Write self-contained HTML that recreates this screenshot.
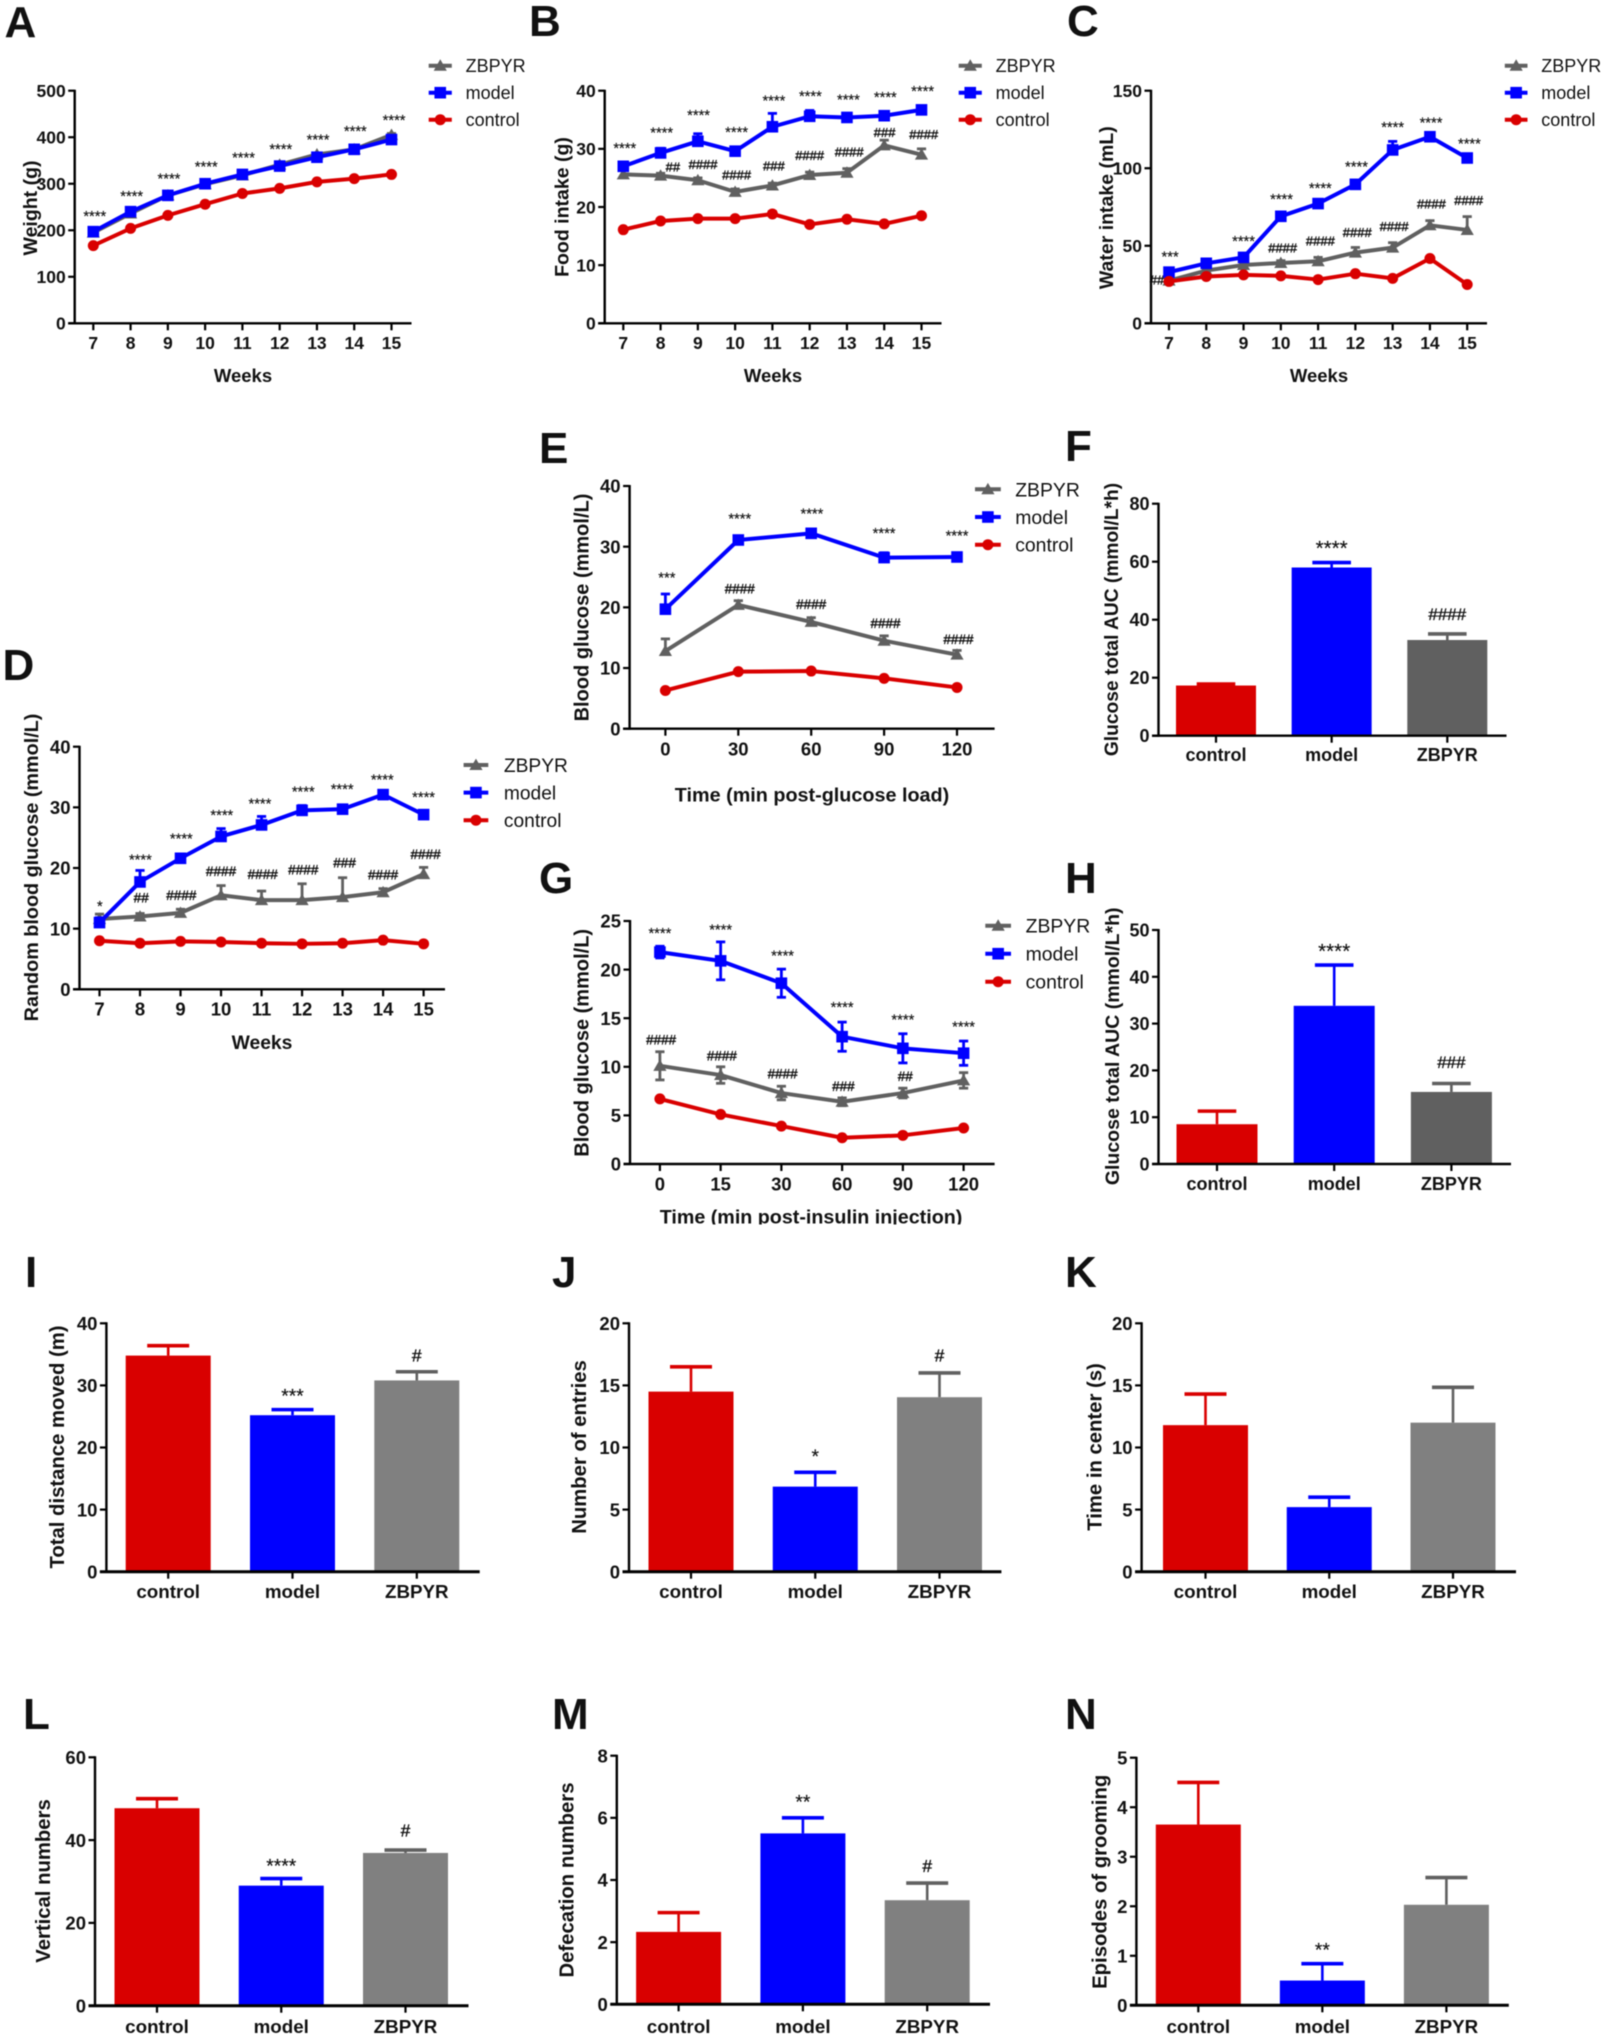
<!DOCTYPE html>
<html lang="en">
<head>
<meta charset="utf-8">
<title>ZBPYR multi-panel figure</title>
<style>
html,body{margin:0;padding:0;background:#fff;}
#figure{display:block;width:1604px;height:2038px;filter:blur(.4px);}
text{font-family:"Liberation Sans",Arial,sans-serif;fill:#111;}
</style>
</head>
<body>
<svg id="figure" xmlns="http://www.w3.org/2000/svg" width="1604" height="2038" viewBox="0 0 1604 2038"></svg>
<script>
/* ---------- shared categories ---------- */
const weeks = ['7','8','9','10','11','12','13','14','15'];
const glucoseTimes = ['0','30','60','90','120'];
const insulinTimes = ['0','15','30','60','90','120'];
const groups = ['control','model','ZBPYR'];

/* ---------- panel A ---------- */
const aTicks = [0,100,200,300,400,500];
const aZbpyr = [195,236,275,299,318,341,363,374,405];
const aZbpyrErr = [3,3,3,3,3,3,3,3,3];
const aModel = [197,240,275,300,320,338,357,374,395];
const aModelErr = [3,3,3,3,3,3,3,3,3];
const aControl = [167,204,232,256,279,290,304,311,320];
const aControlErr = [2,2,2,2,2,2,2,2,2];
const aStarLabels = ['****','****','****','****','****','****','****','****','****'];
const aStarAt = [0.04,1.03,2.03,3.03,4.03,5.03,6.03,7.03,8.07];
const aStarLevel = [238,281,319,344,364,382,402,421,444];

/* ---------- panel B ---------- */
const bTicks = [0,10,20,30,40];
const bZbpyr = [25.6,25.4,24.6,22.6,23.7,25.5,25.9,30.6,29];
const bZbpyrErr = [0.8,0.4,0.4,0.5,0.4,0.5,0.7,0.9,1.0];
const bModel = [27,29.3,31.3,29.6,33.8,35.6,35.4,35.7,36.7];
const bModelErr = [0.4,0.8,1.3,0.6,2.3,1.0,0.7,0.5,0.5];
const bControl = [16.1,17.6,18,18,18.8,17,17.9,17.1,18.5];
const bControlErr = [0.3,0.3,0.3,0.3,0.4,0.3,0.3,0.3,0.3];
const bStarLabels = ['****','****','****','****','****','****','****','****','****'];
const bStarAt = [0.04,1.03,2.02,3.04,4.04,5.02,6.04,7.03,8.03];
const bStarLevel = [30.7,33.4,36.4,33.5,38.9,39.7,39.1,39.5,40.5];
const bHashLabels = ['##','####','####','###','####','####','###','####'];
const bHashAt = [1.33,2.14,3.04,4.04,5.0,6.06,7.01,8.06];
const bHashLevel = [26.9,27.3,25.5,27.1,28.9,29.5,32.8,32.5];

/* ---------- panel C ---------- */
const cTicks = [0,50,100,150];
const cZbpyr = [27.5,34,37.6,38.9,40,45.6,48.8,63.2,60.2];
const cZbpyrErr = [1,1,1,1.5,2.5,3.3,3.2,3,8.6];
const cModel = [33,38.7,42.5,69,77.2,89.6,111.8,120.3,106.6];
const cModelErr = [1.5,1.5,1.5,2,1.5,2,5.5,1.5,1.5];
const cControl = [27,30.2,31.2,30.6,28.2,32,29,41.8,25];
const cControlErr = [0.5,0.5,0.5,0.5,0.5,0.5,0.5,0.5,0.5];
const cStarLabels = ['***','****','****','****','****','****','****','****'];
const cStarAt = [0.03,2,3.02,4.06,5.03,6,7.03,8.06];
const cStarLevel = [45.3,55.4,82.5,89.6,103.2,128.7,131.7,118.2];
const cHashLabels = ['##','####','####','####','####','####','####'];
const cHashAt = [-0.32,3.05,4.06,5.05,6.04,7.04,8.04];
const cHashLevel = [27.9,48.6,53.1,58.7,62.3,76.9,79.1];

/* ---------- panel D ---------- */
const dTicks = [0,10,20,30,40];
const dZbpyr = [11.6,12,12.6,15.5,14.7,14.7,15.2,16,19];
const dZbpyrErr = [0.8,0.5,0.6,1.6,1.5,2.7,3.2,0.6,1.1];
const dModel = [11,17.7,21.6,25.2,27.1,29.5,29.7,32.1,28.8];
const dModelErr = [0.8,1.9,0.5,1.3,1.4,0.8,0.5,0.3,0.3];
const dControl = [8,7.6,7.9,7.8,7.6,7.5,7.6,8.1,7.5];
const dControlErr = [0.2,0.2,0.2,0.2,0.2,0.2,0.2,0.2,0.2];
const dStarLabels = ['*','****','****','****','****','****','****','****','****'];
const dStarAt = [0.01,1.01,2.02,3.02,3.96,5.03,5.99,6.98,8];
const dStarLevel = [14.3,22,25.4,29.3,31.2,33.2,33.6,35.2,32.3];
const dHashLabels = ['##','####','####','####','####','###','####','####'];
const dHashAt = [1.03,2.02,3,4.03,5.03,6.05,7,8.05];
const dHashLevel = [15.1,15.5,19.5,19,19.7,20.9,18.9,22.3];

/* ---------- panel E ---------- */
const eTicks = [0,10,20,30,40];
const eZbpyr = [12.8,20.4,17.6,14.5,12.2];
const eZbpyrErr = [2,0.7,0.7,0.8,0.7];
const eModel = [19.7,31.1,32.2,28.2,28.3];
const eModelErr = [2.5,0.4,0.2,0.8,0.3];
const eControl = [6.3,9.4,9.5,8.3,6.8];
const eControlErr = [0.2,0.2,0.2,0.2,0.2];
const eStarLabels = ['***','****','****','****','****'];
const eStarAt = [0.02,1.02,2.01,3,4];
const eStarLevel = [25.5,35.2,36,32.8,32.4];
const eHashLabels = ['####','####','####','####'];
const eHashAt = [1.02,2,3.02,4.02];
const eHashLevel = [23.1,20.5,17.4,14.7];

/* ---------- panel F ---------- */
const fTicks = [0,20,40,60,80];
const fValues = [17.3,58,33];
const fErrors = [0.5,1.7,2.1];
const fLabels = ['','****','####'];
const fLevels = [0,66.4,42];

/* ---------- panel G ---------- */
const gTicks = [0,5,10,15,20,25];
const gZbpyr = [10.1,9.15,7.3,6.4,7.3,8.6];
const gZbpyrErr = [1.45,0.85,0.7,0.4,0.5,0.8];
const gModel = [21.8,20.9,18.6,13.1,11.9,11.4];
const gModelErr = [0.6,1.95,1.45,1.5,1.5,1.25];
const gControl = [6.7,5.1,3.9,2.7,2.95,3.7];
const gControlErr = [0.15,0.15,0.15,0.15,0.15,0.15];
const gStarLabels = ['****','****','****','****','****','****'];
const gStarAt = [0,1,2.02,3,4,5];
const gStarLevel = [24.1,24.5,21.8,16.5,15.2,14.5];
const gHashLabels = ['####','####','####','###','##'];
const gHashAt = [0.02,1.02,2.02,3.02,4.04];
const gHashLevel = [12.76,11.15,9.3,8,9];

/* ---------- panel H ---------- */
const hTicks = [0,10,20,30,40,50];
const hValues = [8.5,33.8,15.4];
const hErrors = [2.8,8.7,1.8];
const hLabels = ['','****','###'];
const hLevels = [0,46.6,21.8];

/* ---------- panels I to N ---------- */
const iTicks = [0,10,20,30,40];
const iValues = [34.8,25.2,30.8];
const iErrors = [1.6,0.9,1.4];
const iLabels = ['','***','#'];
const iLevels = [0,29,34.8];

const jTicks = [0,5,10,15,20];
const jValues = [14.5,6.85,14.05];
const jErrors = [2,1.15,1.95];
const jLabels = ['','*','#'];
const jLevels = [0,9.64,17.4];

const kTicks = [0,5,10,15,20];
const kValues = [11.8,5.2,12];
const kErrors = [2.5,0.8,2.85];
const kLabels = ['','',''];
const kLevels = [0,0,0];

const lTicks = [0,20,40,60];
const lValues = [47.7,29,36.9];
const lErrors = [2.3,1.7,0.7];
const lLabels = ['','****','#'];
const lLevels = [0,34.9,42.4];

const mTicks = [0,2,4,6,8];
const mValues = [2.33,5.5,3.35];
const mErrors = [0.62,0.5,0.55];
const mLabels = ['','**','#'];
const mLevels = [0,6.65,4.46];

const nTicks = [0,1,2,3,4,5];
const nValues = [3.65,0.5,2.03];
const nErrors = [0.85,0.34,0.55];
const nLabels = ['','**',''];
const nLevels = [0,1.21,0];

/* ---------- palette ---------- */
const RED = '#d90000', BLUE = '#0000ff', DARK = '#606060', GRAY = '#808080';
const svg = document.getElementById('figure');
const NS = 'http://www.w3.org/2000/svg';

function add(parent, tag, attrs, name) {
  const el = document.createElementNS(NS, tag);
  for (const k in attrs) el.setAttribute(k, attrs[k]);
  
  
  parent.appendChild(el);
  return el;
}
function addText(parent, str, attrs, name) {
  const el = add(parent, 'text', attrs, name);
  el.textContent = str;
  return el;
}
function panelLetter(letter, x, y) {
  addText(svg, letter, {x: x, y: y, 'font-size': 44, 'font-weight': 700, fill: '#000'}, 'panel-letter-' + letter.toLowerCase());
}
function yTitle(g, str, x, y, size) {
  addText(g, str, {x: x, y: y, 'font-size': size, 'font-weight': 700, 'text-anchor': 'middle', 'dominant-baseline': 'central',
    transform: 'rotate(-90 ' + x + ' ' + y + ')'}, 'y-axis-title');
}
function drawYAxis(g, L, ticks, yScale) {
  add(g, 'line', {x1: L.axisX, x2: L.axisX, y1: yScale(ticks[ticks.length - 1]) - 1, y2: L.y0 + 1, stroke: '#000', 'stroke-width': 2.4}, 'y-axis-line');
  ticks.forEach(t => {
    const y = yScale(t);
    add(g, 'line', {x1: L.axisX - 6.5, x2: L.axisX, y1: y, y2: y, stroke: '#000', 'stroke-width': 2.2}, 'y-axis-tick');
    addText(g, String(t), {x: L.axisX - 9, y: y + L.tickSize * 0.36, 'font-size': L.tickSize, 'font-weight': 700, 'text-anchor': 'end'}, 'y-tick-label');
  });
}
function marker(g, shape, x, y, color, name) {
  if (shape === 'square') add(g, 'rect', {x: x - 5.8, y: y - 5.8, width: 11.6, height: 11.6, fill: color}, name);
  else if (shape === 'circle') add(g, 'circle', {cx: x, cy: y, r: 5.5, fill: color}, name);
  else add(g, 'polygon', {points: (x - 6.6) + ',' + (y + 5) + ' ' + (x + 6.6) + ',' + (y + 5) + ' ' + x + ',' + (y - 6.4), fill: color}, name);
}
function annotate(g, labels, at, levels, xScale, yScale, starSize, hashSize) {
  labels.forEach((lab, i) => {
    if (!lab) return;
    const star = lab.charAt(0) === '*';
    const fs = star ? starSize : hashSize;
    const off = star ? 0.575 * fs : 0.35 * fs;
    addText(g, lab, {x: xScale(at[i]), y: yScale(levels[i]) + off, 'font-size': fs, 'text-anchor': 'middle',
      fill: '#000', stroke: '#000', 'stroke-width': star ? 0.15 : 0.35},
      star ? 'significance-stars' : 'significance-hashes');
  });
}

function linePanel(key, L, D) {
  const g = add(svg, 'g', {}, 'panel-' + key);
  const n = D.cats.length;
  const xScale = i => L.x0 + i * (L.x1 - L.x0) / (n - 1);
  const maxT = D.ticks[D.ticks.length - 1];
  const yScale = v => L.y0 - v * (L.y0 - L.yTop) / maxT;

  drawYAxis(g, L, D.ticks, yScale);
  add(g, 'line', {x1: L.axisX - 6.5, x2: L.xEnd, y1: L.y0, y2: L.y0, stroke: '#000', 'stroke-width': 2.4}, 'x-axis-line');
  D.cats.forEach((c, i) => {
    add(g, 'line', {x1: xScale(i), x2: xScale(i), y1: L.y0, y2: L.y0 + 7, stroke: '#000', 'stroke-width': 2.2}, 'x-axis-tick');
    addText(g, c, {x: xScale(i), y: L.tickY, 'font-size': L.tickSize, 'font-weight': 700, 'text-anchor': 'middle'}, 'x-tick-label');
  });
  addText(g, D.xTitle, {x: L.xTitleX, y: L.xTitleY, 'font-size': L.xTitleSize, 'font-weight': 700, 'text-anchor': 'middle'}, 'x-axis-title');
  yTitle(g, D.yTitle, L.titleX, L.titleY, L.titleSize);

  annotate(g, D.hashLabels || [], D.hashAt || [], D.hashLevel || [], xScale, yScale, L.starSize, L.hashSize);
  annotate(g, D.starLabels, D.starAt, D.starLevel, xScale, yScale, L.starSize, L.hashSize);

  D.series.forEach(s => {
    const sg = add(g, 'g', {}, 'series-' + s.name.toLowerCase());
    s.vals.forEach((v, i) => {
      const x = xScale(i), top = yScale(v + s.errs[i]), bot = L.both ? yScale(v - s.errs[i]) : yScale(v);
      add(sg, 'line', {x1: x, x2: x, y1: top, y2: bot, stroke: s.color, 'stroke-width': 2.8}, 'error-bar');
      add(sg, 'line', {x1: x - 4.6, x2: x + 4.6, y1: top, y2: top, stroke: s.color, 'stroke-width': 2.8}, 'error-cap');
      if (L.both) {
        add(sg, 'line', {x1: x - 4.6, x2: x + 4.6, y1: bot, y2: bot, stroke: s.color, 'stroke-width': 2.8}, 'error-cap');
      }
    });
    const pts = s.vals.map((v, i) => xScale(i) + ',' + yScale(v)).join(' ');
    add(sg, 'polyline', {points: pts, fill: 'none', stroke: s.color, 'stroke-width': 4, 'stroke-linejoin': 'round'}, 'series-line');
    s.vals.forEach((v, i) => marker(sg, s.shape, xScale(i), yScale(v), s.color, 'data-point'));
  });

  D.series.forEach((s, i) => {
    const y = L.legY + i * L.legStep;
    const lg = add(g, 'g', {}, 'legend-entry-' + s.name.toLowerCase());
    add(lg, 'line', {x1: L.legX0, x2: L.legX1, y1: y, y2: y, stroke: s.color, 'stroke-width': 4}, 'legend-line');
    marker(lg, s.shape, (L.legX0 + L.legX1) / 2, y, s.color, 'legend-marker');
    addText(lg, s.name, {x: L.legTextX, y: y + L.legSize * 0.36, 'font-size': L.legSize, fill: '#222'}, 'legend-label');
  });
}

function barPanel(key, L, D) {
  const g = add(svg, 'g', {}, 'panel-' + key);
  const xScale = i => L.c0 + i * L.step;
  const maxT = D.ticks[D.ticks.length - 1];
  const yScale = v => L.y0 - v * (L.y0 - L.yTop) / maxT;
  const colors = [RED, BLUE, L.gray];
  const errColors = [RED, BLUE, DARK];

  D.values.forEach((v, i) => {
    const x = xScale(i), top = yScale(v), et = yScale(v + D.errors[i]);
    add(g, 'line', {x1: x, x2: x, y1: et, y2: top, stroke: errColors[i], 'stroke-width': 2.6}, 'error-bar-' + groups[i].toLowerCase());
    add(g, 'line', {x1: x - L.cap, x2: x + L.cap, y1: et, y2: et, stroke: errColors[i], 'stroke-width': 3.6}, 'error-cap-' + groups[i].toLowerCase());
    add(g, 'rect', {x: x - L.barW / 2, y: top, width: L.barW, height: L.y0 - top, fill: colors[i]}, 'bar-' + groups[i].toLowerCase());
  });
  drawYAxis(g, L, D.ticks, yScale);
  add(g, 'line', {x1: L.axisX - 6.5, x2: L.xEnd, y1: L.y0, y2: L.y0, stroke: '#000', 'stroke-width': L.xStroke}, 'x-axis-line');
  groups.forEach((c, i) => {
    add(g, 'line', {x1: xScale(i), x2: xScale(i), y1: L.y0, y2: L.y0 + 7, stroke: '#000', 'stroke-width': 2.2}, 'x-axis-tick');
    addText(g, c, {x: xScale(i), y: L.tickY, 'font-size': L.catSize, 'font-weight': 700, 'text-anchor': 'middle'}, 'x-tick-label');
  });
  yTitle(g, D.yTitle, L.titleX, L.titleY, L.titleSize);
  annotate(g, D.labels, [0, 1, 2], D.levels, xScale, yScale, L.starSize, L.hashSize);
}

function seriesOf(z, ze, m, me, c, ce) {
  return [
    {name: 'ZBPYR', color: DARK, shape: 'triangle', vals: z, errs: ze},
    {name: 'model', color: BLUE, shape: 'square', vals: m, errs: me},
    {name: 'control', color: RED, shape: 'circle', vals: c, errs: ce}
  ];
}

/* ---------- line panels ---------- */
const topRow = {y0: 323.3, yTop: 90.7, tickSize: 17.5, tickY: 349, xTitleY: 382, xTitleSize: 18.5, titleSize: 19.5,
  starSize: 14.7, hashSize: 13, legY: 65.7, legStep: 27, legSize: 18};

linePanel('a', Object.assign({}, topRow, {axisX: 74.7, x0: 93.3, x1: 391.5, xEnd: 411.5, xTitleX: 243, titleX: 31, titleY: 208,
  legX0: 428.7, legX1: 451.8, legTextX: 465.6}),
  {cats: weeks, ticks: aTicks, xTitle: 'Weeks', yTitle: 'Weight (g)',
   series: seriesOf(aZbpyr, aZbpyrErr, aModel, aModelErr, aControl, aControlErr),
   starLabels: aStarLabels, starAt: aStarAt, starLevel: aStarLevel});

linePanel('b', Object.assign({}, topRow, {axisX: 604.7, x0: 623.3, x1: 921.5, xEnd: 941.5, xTitleX: 773, titleX: 562.7, titleY: 207,
  legX0: 958.7, legX1: 981.8, legTextX: 995.6}),
  {cats: weeks, ticks: bTicks, xTitle: 'Weeks', yTitle: 'Food intake (g)',
   series: seriesOf(bZbpyr, bZbpyrErr, bModel, bModelErr, bControl, bControlErr),
   starLabels: bStarLabels, starAt: bStarAt, starLevel: bStarLevel,
   hashLabels: bHashLabels, hashAt: bHashAt, hashLevel: bHashLevel});

linePanel('c', Object.assign({}, topRow, {axisX: 1151, x0: 1169, x1: 1467.2, xEnd: 1487, xTitleX: 1319, titleX: 1107, titleY: 207.7,
  legX0: 1504.8, legX1: 1527.5, legTextX: 1541.3}),
  {cats: weeks, ticks: cTicks, xTitle: 'Weeks', yTitle: 'Water intake (mL)',
   series: seriesOf(cZbpyr, cZbpyrErr, cModel, cModelErr, cControl, cControlErr),
   starLabels: cStarLabels, starAt: cStarAt, starLevel: cStarLevel,
   hashLabels: cHashLabels, hashAt: cHashAt, hashLevel: cHashLevel});

linePanel('d', {y0: 989.3, yTop: 746.7, axisX: 79.5, x0: 99.5, x1: 423.6, xEnd: 445, tickSize: 18.5, tickY: 1015.5,
  xTitleX: 262, xTitleY: 1049, xTitleSize: 19.3, titleX: 32, titleY: 867.5, titleSize: 19.8, starSize: 14.7, hashSize: 13.6,
  legX0: 463.6, legX1: 488.3, legTextX: 503.9, legY: 765, legStep: 27.6, legSize: 19.2},
  {cats: weeks, ticks: dTicks, xTitle: 'Weeks', yTitle: 'Random blood glucose (mmol/L)',
   series: seriesOf(dZbpyr, dZbpyrErr, dModel, dModelErr, dControl, dControlErr),
   starLabels: dStarLabels, starAt: dStarAt, starLevel: dStarLevel,
   hashLabels: dHashLabels, hashAt: dHashAt, hashLevel: dHashLevel});

linePanel('e', {y0: 728.7, yTop: 486, axisX: 629.6, x0: 665.4, x1: 957, xEnd: 994.6, tickSize: 18.5, tickY: 755.5,
  xTitleX: 812, xTitleY: 801.5, xTitleSize: 19.8, titleX: 582.4, titleY: 607.5, titleSize: 20, starSize: 14.7, hashSize: 13.5,
  legX0: 975, legX1: 1000.8, legTextX: 1015.2, legY: 489.3, legStep: 27.7, legSize: 19.4},
  {cats: glucoseTimes, ticks: eTicks, xTitle: 'Time (min post-glucose load)', yTitle: 'Blood glucose (mmol/L)',
   series: seriesOf(eZbpyr, eZbpyrErr, eModel, eModelErr, eControl, eControlErr),
   starLabels: eStarLabels, starAt: eStarAt, starLevel: eStarLevel,
   hashLabels: eHashLabels, hashAt: eHashAt, hashLevel: eHashLevel});

linePanel('g', {y0: 1164, yTop: 921, axisX: 630, x0: 659.9, x1: 963.6, xEnd: 994.6, both: true, tickSize: 18.5, tickY: 1190.5,
  xTitleX: 811, xTitleY: 1223.5, xTitleSize: 19.7, titleX: 582.4, titleY: 1042.8, titleSize: 20, starSize: 14.7, hashSize: 13.5,
  legX0: 985.3, legX1: 1011, legTextX: 1025.6, legY: 925.7, legStep: 28, legSize: 19.4},
  {cats: insulinTimes, ticks: gTicks, xTitle: 'Time (min post-insulin injection)', yTitle: 'Blood glucose (mmol/L)',
   series: seriesOf(gZbpyr, gZbpyrErr, gModel, gModelErr, gControl, gControlErr),
   starLabels: gStarLabels, starAt: gStarAt, starLevel: gStarLevel,
   hashLabels: gHashLabels, hashAt: gHashAt, hashLevel: gHashLevel});
add(svg, 'rect', {x: 640, y: 1224.5, width: 340, height: 8, fill: '#fff'}, 'x-title-crop-edge');

/* ---------- AUC bars ---------- */
const aucStyle = {gray: DARK, barW: 80, cap: 19.3, catSize: 18, tickSize: 18, titleSize: 19.2, xStroke: 2.4, starSize: 20.6, hashSize: 17};
barPanel('f', Object.assign({}, aucStyle, {axisX: 1158.5, y0: 735.7, yTop: 503.7, c0: 1216, step: 115.65, xEnd: 1506.5, tickY: 761,
  titleX: 1112.4, titleY: 619.5}),
  {ticks: fTicks, values: fValues, errors: fErrors, labels: fLabels, levels: fLevels, yTitle: 'Glucose total AUC (mmol/L*h)'});
barPanel('h', Object.assign({}, aucStyle, {axisX: 1158.5, y0: 1164, yTop: 930, c0: 1217, step: 117.2, xEnd: 1511, tickY: 1190, barW: 81,
  titleX: 1113, titleY: 1046.3, titleSize: 19.5}),
  {ticks: hTicks, values: hValues, errors: hErrors, labels: hLabels, levels: hLevels, yTitle: 'Glucose total AUC (mmol/L*h)'});

/* ---------- behaviour bars ---------- */
const behStyle = {gray: GRAY, barW: 85, cap: 21, catSize: 18.8, tickSize: 18.5, titleSize: 20.3, xStroke: 3, starSize: 19.3, hashSize: 17.5};
const row3 = {y0: 1571.7, yTop: 1323.3, tickY: 1598, titleY: 1447};
const row4 = {yTop: 1757.3, tickY: 2033, titleY: 1881};
barPanel('i', Object.assign({}, behStyle, row3, {axisX: 106.4, c0: 168.2, step: 124.3, xEnd: 479.7, titleX: 58}),
  {ticks: iTicks, values: iValues, errors: iErrors, labels: iLabels, levels: iLevels, yTitle: 'Total distance moved (m)'});
barPanel('j', Object.assign({}, behStyle, row3, {axisX: 629, c0: 691, step: 124.25, xEnd: 1001.4, titleX: 580}),
  {ticks: jTicks, values: jValues, errors: jErrors, labels: jLabels, levels: jLevels, yTitle: 'Number of entries'});
barPanel('k', Object.assign({}, behStyle, row3, {axisX: 1141.6, c0: 1205.5, step: 123.75, xEnd: 1516, titleX: 1095.5}),
  {ticks: kTicks, values: kValues, errors: kErrors, labels: kLabels, levels: kLevels, yTitle: 'Time in center (s)'});
barPanel('l', Object.assign({}, behStyle, row4, {y0: 2005.7, axisX: 95, c0: 157, step: 124.25, xEnd: 468.5, titleX: 44}),
  {ticks: lTicks, values: lValues, errors: lErrors, labels: lLabels, levels: lLevels, yTitle: 'Vertical numbers'});
barPanel('m', Object.assign({}, behStyle, row4, {y0: 2004.3, yTop: 1755.7, axisX: 616.8, c0: 678.6, step: 124.3, xEnd: 990, titleX: 567.7, titleY: 1880}),
  {ticks: mTicks, values: mValues, errors: mErrors, labels: mLabels, levels: mLevels, yTitle: 'Defecation numbers'});
barPanel('n', Object.assign({}, behStyle, row4, {y0: 2005.3, yTop: 1757.7, axisX: 1136.4, c0: 1198.3, step: 124.05, xEnd: 1508.8, titleX: 1100.7, titleY: 1881.8}),
  {ticks: nTicks, values: nValues, errors: nErrors, labels: nLabels, levels: nLevels, yTitle: 'Episodes of grooming'});

/* ---------- panel letters ---------- */
panelLetter('A', 4.5, 37);
panelLetter('B', 529, 36);
panelLetter('C', 1067, 36);
panelLetter('D', 2.5, 680);
panelLetter('E', 539, 463);
panelLetter('F', 1065, 461);
panelLetter('G', 539, 893);
panelLetter('H', 1065, 893);
panelLetter('I', 25, 1287);
panelLetter('J', 552, 1287);
panelLetter('K', 1065, 1287);
panelLetter('L', 23, 1729);
panelLetter('M', 552, 1729);
panelLetter('N', 1065, 1729);
</script>
</body>
</html>
